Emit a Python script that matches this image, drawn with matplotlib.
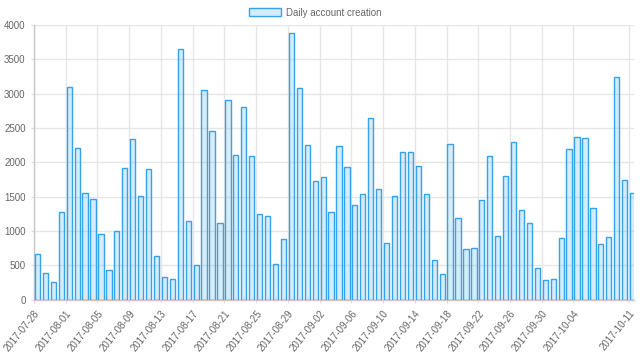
import matplotlib.pyplot as plt
import pandas as pd

# Daily account creation counts, 2017-07-28 .. 2017-10-11
start_date = "2017-07-28"
end_date = "2017-10-11"
counts = [
    665, 390, 255, 1280, 3100, 2210, 1550, 1460, 955, 430,
    1000, 1920, 2340, 1510, 1910, 640, 335, 300, 3650, 1150,
    510, 3050, 2460, 1110, 2910, 2110, 2800, 2090, 1255, 1220,
    520, 880, 3880, 3080, 2260, 1735, 1790, 1280, 2235, 1930,
    1385, 1545, 2645, 1605, 820, 1510, 2155, 2155, 1945, 1535,
    580, 380, 2270, 1185, 745, 755, 1455, 2090, 930, 1795,
    2295, 1300, 1115, 465, 290, 300, 895, 2190, 2365, 2355,
    1340, 810, 920, 3240, 1745, 1555,
]
dates = pd.date_range(start_date, end_date, freq="D")
series_label = "Daily account creation"

plt.rcParams["font.family"] = ["Liberation Sans", "DejaVu Sans"]

# Chart.js-like colours
border_col = "#36a2eb"
fill_col = (54 / 255, 162 / 255, 235 / 255, 0.2)
grid_col = "#e6e6e6"
text_col = "#666666"

fig = plt.figure(figsize=(6.4, 3.6), dpi=100)
ax = fig.add_axes([0.053, 0.1675, 0.938, 0.763])

idx = list(range(len(dates)))
ax.bar([i + 0.12 for i in idx], counts, width=0.66, align="edge",
       color=fill_col, edgecolor=border_col, linewidth=1, label=series_label,
       zorder=3)

# tick labels: every 4 days, plus the last day
tick_idx = list(range(0, len(dates) - 4, 4)) + [len(dates) - 1]
ax.set_xticks(tick_idx)
ax.set_xticklabels([dates[i].strftime("%Y-%m-%d") for i in tick_idx],
                   rotation=51, ha="right", rotation_mode="anchor",
                   fontsize=7, color=text_col)
ax.set_xlim(0, len(dates) - 0.34)

ax.set_ylim(0, 4000)
ax.set_yticks(range(0, 4001, 500))
ax.set_yticklabels([str(v) for v in range(0, 4001, 500)], fontsize=7, color=text_col)

ax.grid(True, color=grid_col, linewidth=1, zorder=0)
ax.set_axisbelow(True)
ax.tick_params(axis="both", length=2.5, color="#dddddd", pad=3.5)
for side in ["top", "right"]:
    ax.spines[side].set_visible(False)
for side in ["left", "bottom"]:
    ax.spines[side].set_color("#c8c8c8")
    ax.spines[side].set_linewidth(1)

handles, labels = ax.get_legend_handles_labels()
fig.legend(handles, labels, loc="center", bbox_to_anchor=(0.493, 0.965),
           frameon=False, fontsize=7, labelcolor=text_col,
           handlelength=3.3, handleheight=0.95, handletextpad=0.5,
           borderpad=0.1)

plt.savefig("out.png", dpi=100)
